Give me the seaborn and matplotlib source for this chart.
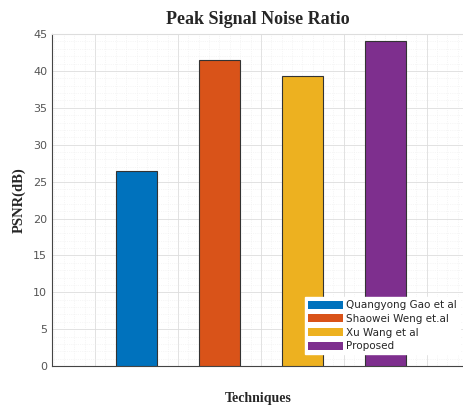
import matplotlib
matplotlib.use('Agg')
import matplotlib.pyplot as plt
import matplotlib.ticker as ticker
import pandas as pd
import seaborn as sb

# Values
techniques = ['Quangyong Gao et al', 'Shaowei Weng et.al', 'Xu Wang et al', 'Proposed']
psnr = [26.4, 41.5, 39.3, 44.0]
colors = ['#0072BD', '#D95319', '#EDB120', '#7E2F8E']
yticks = [0, 5, 10, 15, 20, 25, 30, 35, 40, 45]

data = pd.DataFrame({'technique': techniques, 'psnr': psnr})

sb.set_style('white')
plt.rcParams['font.family'] = ['DejaVu Sans']

figure = plt.figure(figsize=(4.64, 4.05), dpi=100)
axis = figure.add_axes([0.112, 0.096, 0.888, 0.82])

sb.barplot(data=data, x='technique', y='psnr', hue='technique', palette=colors,
           width=0.5, edgecolor='#333333', linewidth=0.8, saturation=1,
           legend=False, ax=axis, zorder=3)

# Axis limits, ticks and the dense MATLAB-style grid
axis.set_xlim(-1.02, 3.95)
axis.set_ylim(0, 45)
axis.set_xticks([-0.5, 0.5, 1.5, 2.5, 3.5])
axis.set_xticklabels([])
axis.set_yticks(yticks)
axis.set_yticklabels([str(v) for v in yticks], fontsize=8, color='#555555')
axis.xaxis.set_minor_locator(ticker.MultipleLocator(0.125))
axis.yaxis.set_minor_locator(ticker.MultipleLocator(1))
axis.grid(which='major', color='#dddddd', linewidth=0.6, zorder=0)
axis.grid(which='minor', color='#eeeeee', linewidth=0.5, linestyle=':', zorder=0)
axis.tick_params(axis='both', which='major', direction='in', length=3, color='#444444')
axis.tick_params(axis='both', which='minor', length=0)
for side in ['left', 'bottom']:
    axis.spines[side].set_color('#444444')
    axis.spines[side].set_linewidth(0.8)
for side in ['top', 'right']:
    axis.spines[side].set_color('#dddddd')

# Labels in bold serif
serif = {'family': 'Liberation Serif', 'weight': 'bold'}
axis.set_title('Peak Signal Noise Ratio', fontdict=serif, fontsize=13, pad=7)
axis.set_ylabel('PSNR(dB)', fontdict=serif, fontsize=10.5, labelpad=5)
axis.set_xlabel('Techniques', fontdict=serif, fontsize=10, labelpad=15)

# Legend built from the bar patches
handles = [plt.Rectangle((0, 0), 1, 1, facecolor=c, edgecolor='none') for c in colors]
axis.legend(handles, techniques, loc='lower left', bbox_to_anchor=(0.615, 0.035),
            fontsize=7.5, frameon=True, fancybox=False, framealpha=1,
            edgecolor='white', handlelength=3.3, handleheight=0.8,
            labelspacing=0.35, handletextpad=0.3, borderpad=0.3, borderaxespad=0)

plt.savefig('out.png', dpi=100)
plt.close()
